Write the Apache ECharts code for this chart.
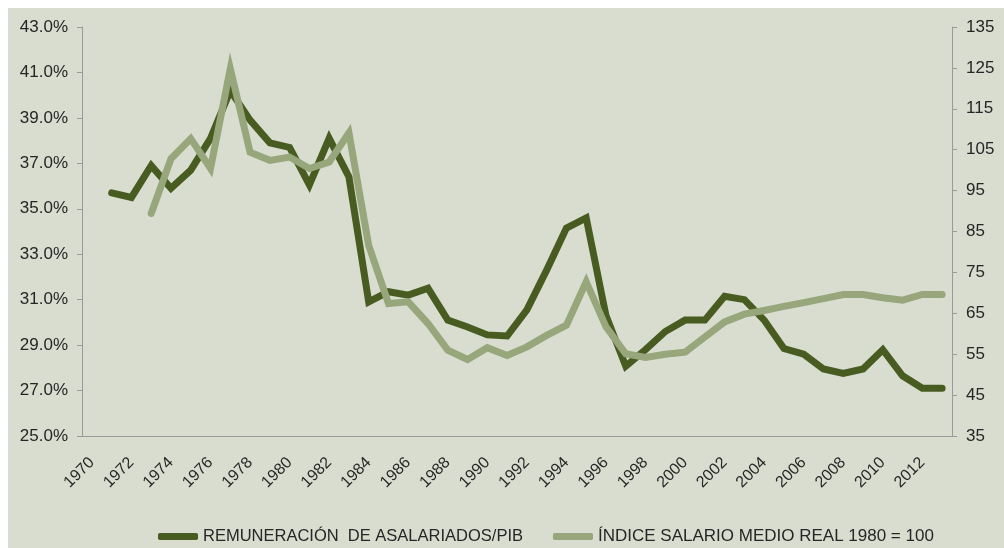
<!DOCTYPE html>
<html>
<head>
    <meta charset="utf-8">
    <title>Remuneración de asalariados</title>
    <script type="text/javascript" src="https://cdn.jsdelivr.net/npm/echarts@6/dist/echarts.min.js"></script>
    <style>
        html, body { margin: 0; padding: 0; background: #ffffff; }
    </style>
</head>
<body>
	<div id="main" style="height:548px; width:1004px;"></div>
	<script type="text/javascript">
	var years = ['1970', '1971', '1972', '1973', '1974', '1975', '1976', '1977', '1978', '1979',
	    '1980', '1981', '1982', '1983', '1984', '1985', '1986', '1987', '1988', '1989',
	    '1990', '1991', '1992', '1993', '1994', '1995', '1996', '1997', '1998', '1999',
	    '2000', '2001', '2002', '2003', '2004', '2005', '2006', '2007', '2008', '2009',
	    '2010', '2011', '2012', '2013'];
	// % del PIB (eje izquierdo)
	var remuneracion = [null, 35.7, 35.5, 36.9, 35.9, 36.7, 38.1, 40.2, 38.9, 37.9,
	    37.7, 36.05, 38.1, 36.4, 30.9, 31.35, 31.2, 31.5, 30.1, 29.8,
	    29.45, 29.4, 30.55, 32.3, 34.15, 34.6, 30.3, 28.07, 28.8, 29.6,
	    30.1, 30.1, 31.15, 31.0, 30.1, 28.85, 28.6, 27.95, 27.75, 27.95,
	    28.8, 27.65, 27.1, 27.1];
	// indice 1980 = 100 (eje derecho)
	var salario = [null, null, null, 89.4, 102.8, 107.7, 100.4, 124.8, 104.4, 102.4,
	    103.2, 100.4, 102, 109.1, 81.6, 67.4, 67.8, 62.5, 56, 53.7,
	    56.6, 54.7, 56.8, 59.6, 62.1, 72.7, 61.7, 55.1, 54.2, 55,
	    55.5, 59.2, 62.9, 64.8, 65.7, 66.7, 67.6, 68.6, 69.6, 69.6,
	    68.8, 68.2, 69.6, 69.6];
	var seriesNames = ['REMUNERACIÓN  DE ASALARIADOS/PIB', 'ÍNDICE SALARIO MEDIO REAL 1980 = 100'];

	var font = "'Liberation Sans', Arial, sans-serif";
	var textColor = '#262626';
	var axisColor = '#9a9a9a';
	var myChart = echarts.init(document.getElementById('main'));

	var option = {
	    animation: false,
	    textStyle: {fontFamily: font},
	    graphic: [{
	        type: 'rect',
	        z: -100,
	        silent: true,
	        shape: {x: 8, y: 8, width: 996, height: 540},
	        style: {fill: '#d8ddcf'}
	    }],
	    grid: {left: 82, right: 52, top: 27, bottom: 112},
	    legend: {
	        top: 523,
	        left: 153,
	        itemWidth: 40,
	        itemHeight: 7,
	        itemGap: 30,
	        icon: 'roundRect',
	        textStyle: {color: textColor, fontSize: 17, fontFamily: font},
	        data: [
	            {name: seriesNames[0], textStyle: {fontSize: 16.5}},
	            {name: seriesNames[1]}
	        ]
	    },
	    xAxis: {
	        type: 'category',
	        boundaryGap: true,
	        data: years,
	        axisLine: {lineStyle: {color: axisColor, width: 1}},
	        axisTick: {interval: 0, length: 5, lineStyle: {color: axisColor}},
	        axisLabel: {interval: 1, rotate: 45, margin: 24, color: textColor, fontSize: 16, fontFamily: font},
	        splitLine: {show: false}
	    },
	    yAxis: [
	        {
	            type: 'value',
	            min: 25, max: 43, interval: 2,
	            axisLine: {show: true, lineStyle: {color: axisColor}},
	            axisTick: {show: true, length: 5, lineStyle: {color: axisColor}},
	            axisLabel: {
	                margin: 14, color: textColor, fontSize: 17, fontFamily: font,
	                formatter: function(v){ return v.toFixed(1) + '%'; }
	            },
	            splitLine: {show: false}
	        },
	        {
	            type: 'value',
	            position: 'right',
	            min: 35, max: 135, interval: 10,
	            axisLine: {show: true, lineStyle: {color: axisColor}},
	            axisTick: {show: true, length: 5, lineStyle: {color: axisColor}},
	            axisLabel: {margin: 14, color: textColor, fontSize: 17, fontFamily: font},
	            splitLine: {show: false}
	        }
	    ],
	    series: [
	        {
	            name: seriesNames[0],
	            type: 'line',
	            yAxisIndex: 0,
	            data: remuneracion,
	            showSymbol: false,
	            symbol: 'none',
	            color: '#485c21',
	            lineStyle: {width: 7, color: '#485c21', cap: 'round', join: 'miter'}
	        },
	        {
	            name: seriesNames[1],
	            type: 'line',
	            yAxisIndex: 1,
	            data: salario,
	            showSymbol: false,
	            symbol: 'none',
	            color: '#97a67b',
	            lineStyle: {width: 7, color: '#97a67b', cap: 'round', join: 'miter'}
	        }
	    ]
	};
	myChart.setOption(option);
	</script>
</body>
</html>
